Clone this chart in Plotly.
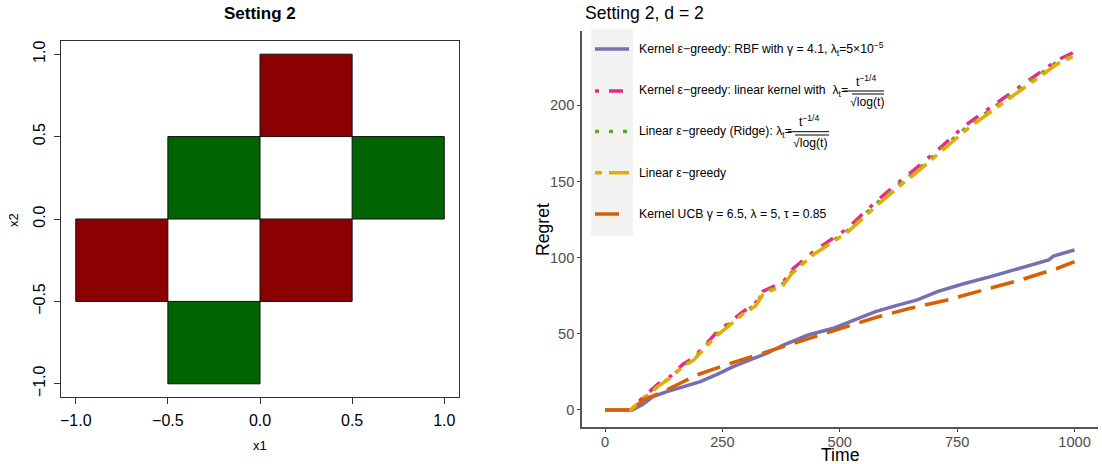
import plotly.graph_objects as go

# ---------------- data ----------------
# Left panel: coloured cells (lower-left corners), cell size and colour class
cell_x0 = [0.0, -1.0, 0.0, -0.5, 0.5, -0.5]
cell_y0 = [0.5, -0.5, -0.5, 0.0, 0.0, -1.0]
cell_class = ["red", "red", "red", "green", "green", "green"]
cell_size = 0.5
left_ticks = [-1.0, -0.5, 0.0, 0.5, 1.0]
left_ticktext = ["\u22121.0", "\u22120.5", "0.0", "0.5", "1.0"]

# Right panel: cumulative regret curves
t_upper = [0, 55, 80, 113, 139, 166, 188, 210, 235, 267, 294, 320, 337, 380, 398,
           444, 486, 516, 550, 580, 622, 672, 721, 764, 814, 864, 913, 963, 1000]
pink = [0, 0, 8, 17, 22, 30, 34, 41.5, 50, 58, 64.5, 70, 78, 84, 92,
        104, 112.5, 119, 129, 137.5, 148.5, 161, 174, 186, 197, 208, 219, 229.5, 235]
green = [0, 0, 7.5, 16, 21, 29, 33, 40.5, 49, 57, 63.5, 69, 77, 83, 90.5,
         102.5, 111, 117.5, 127.5, 136, 147, 159.5, 172.5, 184, 195.5, 206.5, 217.5, 228.5, 234]
yellow = [0, 0, 7, 15.5, 21, 28.5, 32.5, 40, 48, 56, 63, 68, 76, 82, 89.5,
          102, 110.5, 116.5, 126, 134.5, 145.5, 158, 171, 182.5, 194, 205, 216, 227, 232.5]
t_blue = [0, 58, 80, 102, 132, 170, 203, 240, 273, 310, 345, 380, 431, 486, 522,
          576, 620, 665, 708, 760, 821, 857, 900, 945, 955, 1000]
blue = [0, 0, 3.5, 8.7, 12, 15.5, 18.6, 23.5, 28.4, 33, 37.2, 42.6, 49, 53.6, 58,
        64.5, 68.5, 72.2, 77.6, 82.5, 87.5, 90.8, 94.5, 98.4, 101, 105]
t_orange = [0, 58, 81, 124, 160, 196, 267, 345, 416, 497, 522, 580, 650, 729,
            806, 885, 964, 1000]
orange = [0, 0, 6.6, 12, 17.5, 23, 30.6, 38.3, 44.8, 53, 55.8, 61, 66.7, 72.2,
          78.7, 85.3, 93, 97.3]
x_ticks = [0, 250, 500, 750, 1000]
y_ticks = [0, 50, 100, 150, 200]

# ---------------- styling ----------------
W, H = 1102, 464
FONT = "Liberation Sans, Arial, Helvetica, sans-serif"
CELL_COLORS = {"red": "#8B0000", "green": "#006400"}
C_BLUE, C_PINK, C_GREEN, C_YEL, C_ORA = "#7570B3", "#E7298A", "#66A61E", "#E6AB02", "#D95F02"
LW = 3.5
D_PINK = "4px,10px,14px,10px"
D_GREEN = "4px,10px"
D_YEL = "7px,7px,21px,7px"
D_ORA = "24px,10px"
LEG_SIZE = 12.2


def px(x):
    return x / W


def py(y):
    return 1 - y / H


fig = go.Figure()

# left panel cells
for x0, y0, cls in zip(cell_x0, cell_y0, cell_class):
    fig.add_trace(go.Scatter(
        x=[x0, x0 + cell_size, x0 + cell_size, x0, x0],
        y=[y0, y0, y0 + cell_size, y0 + cell_size, y0],
        mode="lines", fill="toself", fillcolor=CELL_COLORS[cls],
        line=dict(color="#111111", width=1), xaxis="x", yaxis="y",
        showlegend=False, hoverinfo="skip"))

# right panel curves
series = [
    (t_blue, blue, C_BLUE, "solid"),
    (t_upper, pink, C_PINK, D_PINK),
    (t_upper, green, C_GREEN, D_GREEN),
    (t_upper, yellow, C_YEL, D_YEL),
    (t_orange, orange, C_ORA, D_ORA),
]
for tx, ry, col, dash in series:
    fig.add_trace(go.Scatter(x=tx, y=ry, mode="lines",
                             line=dict(color=col, width=LW, dash=dash),
                             xaxis="x2", yaxis="y2", showlegend=False))

shapes = []
annotations = []

# legend key background
shapes.append(dict(type="rect", xref="paper", yref="paper",
                   x0=px(591), x1=px(633), y0=py(236), y1=py(29),
                   fillcolor="#F2F2F2", line=dict(width=0), layer="below"))
key_rows = [49, 91, 131.5, 172.7, 214]
key_styles = [(C_BLUE, "solid"), (C_PINK, D_PINK), (C_GREEN, D_GREEN),
              (C_YEL, D_YEL), (C_ORA, D_ORA)]
for yy, (col, dash) in zip(key_rows, key_styles):
    shapes.append(dict(type="line", xref="paper", yref="paper",
                       x0=px(595), x1=px(629), y0=py(yy), y1=py(yy),
                       line=dict(color=col, width=LW, dash=dash)))

legend_texts = [
    "Kernel \u03b5\u2212greedy: RBF with \u03b3 = 4.1, \u03bb<sub>t</sub>=5\u00d710<sup>\u22125</sup>",
    "Kernel \u03b5\u2212greedy: linear kernel with  \u03bb<sub>t</sub>=",
    "Linear \u03b5\u2212greedy (Ridge): \u03bb<sub>t</sub>=",
    "Linear \u03b5\u2212greedy",
    "Kernel UCB \u03b3 = 6.5, \u03bb = 5, \u03c4 = 0.85",
]
for yy, txt in zip(key_rows, legend_texts):
    annotations.append(dict(text=txt, xref="paper", yref="paper", x=px(637), y=py(yy),
                            xanchor="left", yanchor="middle", showarrow=False,
                            font=dict(family=FONT, size=LEG_SIZE, color="black")))

# fractions t^-1/4 / sqrt(log t)
fractions = [  # bar x0, bar x1, bar y, centre x, numerator y, denominator y, overline x0, overline y
    (843, 884, 91, 866, 80.5, 102, 852, 94),
    (788, 829, 131.7, 809, 121, 143.5, 795, 135),
]
for bx0, bx1, by, cx, ny, dy, ox0, oy in fractions:
    shapes.append(dict(type="line", xref="paper", yref="paper", x0=px(bx0), x1=px(bx1),
                       y0=py(by), y1=py(by), line=dict(color="black", width=1)))
    shapes.append(dict(type="line", xref="paper", yref="paper", x0=px(ox0), x1=px(bx1),
                       y0=py(oy), y1=py(oy), line=dict(color="black", width=1)))
    annotations.append(dict(text="t<sup>\u22121/4</sup>", xref="paper", yref="paper",
                            x=px(cx), y=py(ny), xanchor="center", yanchor="middle",
                            showarrow=False, font=dict(family=FONT, size=LEG_SIZE, color="black")))
    annotations.append(dict(text="\u221alog(t)", xref="paper", yref="paper",
                            x=px(cx + 1), y=py(dy), xanchor="center", yanchor="middle",
                            showarrow=False, font=dict(family=FONT, size=LEG_SIZE, color="black")))

# titles and axis titles
annotations += [
    dict(text="<b>Setting 2</b>", xref="paper", yref="paper", x=px(260), y=py(13),
         xanchor="center", yanchor="middle", showarrow=False,
         font=dict(family=FONT, size=17, color="black")),
    dict(text="x1", xref="paper", yref="paper", x=px(260), y=py(445),
         xanchor="center", yanchor="middle", showarrow=False,
         font=dict(family=FONT, size=13, color="black")),
    dict(text="x2", xref="paper", yref="paper", x=px(13), y=py(220), textangle=-90,
         xanchor="center", yanchor="middle", showarrow=False,
         font=dict(family=FONT, size=13, color="black")),
    dict(text="Setting 2, d = 2", xref="paper", yref="paper", x=px(583), y=py(13),
         xanchor="left", yanchor="middle", showarrow=False,
         font=dict(family=FONT, size=17.6, color="black")),
    dict(text="Regret", xref="paper", yref="paper", x=px(543), y=py(230), textangle=-90,
         xanchor="center", yanchor="middle", showarrow=False,
         font=dict(family=FONT, size=17.6, color="black")),
    dict(text="Time", xref="paper", yref="paper", x=px(840), y=py(455),
         xanchor="center", yanchor="middle", showarrow=False,
         font=dict(family=FONT, size=17.6, color="black")),
]

fig.update_layout(
    width=W, height=H, margin=dict(l=0, r=0, t=0, b=0),
    paper_bgcolor="white", plot_bgcolor="white", showlegend=False,
    shapes=shapes, annotations=annotations,
    xaxis=dict(domain=[px(61), px(459)], range=[-1.08, 1.08], anchor="y",
               showline=True, mirror=True, linecolor="#333333", linewidth=1,
               ticks="outside", ticklen=6, tickcolor="#333333",
               tickvals=left_ticks, ticktext=left_ticktext, ticklabelstandoff=3,
               tickfont=dict(family=FONT, size=16, color="black"),
               showgrid=False, zeroline=False),
    yaxis=dict(domain=[py(397), py(41)], range=[-1.08, 1.08], anchor="x",
               showline=True, mirror=True, linecolor="#333333", linewidth=1,
               ticks="outside", ticklen=6, tickcolor="#333333",
               tickvals=left_ticks, ticktext=left_ticktext, tickangle=-90,
               ticklabelstandoff=3,
               tickfont=dict(family=FONT, size=16, color="black"),
               showgrid=False, zeroline=False),
    xaxis2=dict(domain=[px(582), px(1098)], range=[-49, 1050], anchor="y2",
                showline=True, linecolor="#555555", linewidth=1.5,
                ticks="outside", ticklen=3, tickcolor="#444444",
                tickvals=x_ticks, ticktext=[str(v) for v in x_ticks],
                ticklabelstandoff=-2,
                tickfont=dict(family=FONT, size=14.6, color="#4D4D4D"),
                showgrid=False, zeroline=False),
    yaxis2=dict(domain=[py(427), py(31)], range=[-11.2, 248.7], anchor="x2",
                showline=True, linecolor="#555555", linewidth=1.5,
                ticks="outside", ticklen=3, tickcolor="#444444",
                tickvals=y_ticks, ticktext=[str(v) for v in y_ticks],
                tickfont=dict(family=FONT, size=14.6, color="#4D4D4D"),
                showgrid=False, zeroline=False),
)

fig.write_html("out.html", config={"displayModeBar": False},
               post_script="document.body.style.margin='0';")
